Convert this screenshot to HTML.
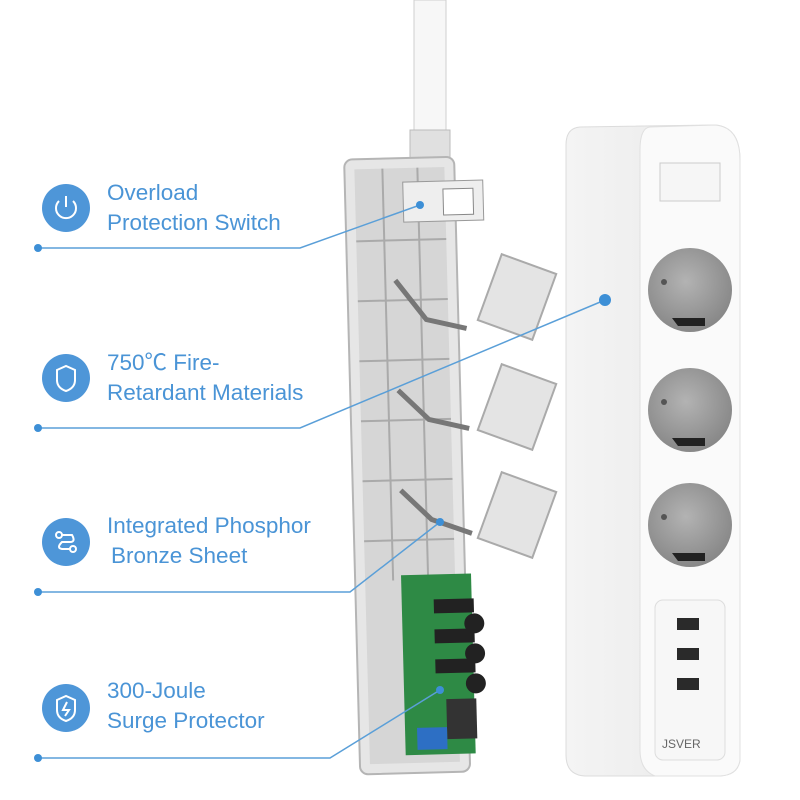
<!DOCTYPE html>
<html><head><meta charset="utf-8"><style>
html,body{margin:0;padding:0;background:#fff;}
svg{display:block}
text{font-family:"Liberation Sans","Noto Sans CJK SC",sans-serif;fill:#4a94d6;font-size:22.5px}
</style></head><body>
<svg width="800" height="800" viewBox="0 0 800 800" xmlns="http://www.w3.org/2000/svg">
<defs>
<radialGradient id="sock" cx="45%" cy="40%" r="60%"><stop offset="0" stop-color="#b3b3b3"/><stop offset="1" stop-color="#888"/></radialGradient>
<linearGradient id="side" x1="0" x2="1"><stop offset="0" stop-color="#f4f4f4"/><stop offset="1" stop-color="#e8e8e8"/></linearGradient>
</defs>
<!-- cable -->
<rect x="414" y="0" width="32" height="140" fill="#f7f7f7" stroke="#cfcfcf"/>
<rect x="410" y="130" width="40" height="30" fill="#e0e0e0" stroke="#bbb"/>
<!-- opened housing -->
<g transform="rotate(-1.5 410 460)">
<rect x="352" y="158" width="110" height="615" rx="8" fill="#e6e6e6" stroke="#b5b5b5" stroke-width="2"/>
<rect x="362" y="168" width="90" height="595" fill="#d6d6d6"/>
<g stroke="#aaa" stroke-width="2" fill="none">
<line x1="362" y1="240" x2="452" y2="240"/><line x1="362" y1="300" x2="452" y2="300"/>
<line x1="362" y1="360" x2="452" y2="360"/><line x1="362" y1="420" x2="452" y2="420"/>
<line x1="362" y1="480" x2="452" y2="480"/><line x1="362" y1="540" x2="452" y2="540"/>
<line x1="390" y1="168" x2="390" y2="580"/><line x1="425" y1="168" x2="425" y2="580"/>
</g>
<rect x="410" y="182" width="80" height="40" fill="#eee" stroke="#999"/>
<rect x="450" y="190" width="30" height="26" fill="#fff" stroke="#888"/>
<g stroke="#777" stroke-width="5" fill="none">
<path d="M400 280 L430 320 L470 330"/><path d="M400 390 L430 420 L470 430"/><path d="M400 490 L430 520 L470 535"/>
</g>
<rect x="398" y="575" width="70" height="180" fill="#2e8a45"/>
<rect x="430" y="600" width="40" height="14" fill="#222"/><rect x="430" y="630" width="40" height="14" fill="#222"/><rect x="430" y="660" width="40" height="14" fill="#222"/>
<circle cx="470" cy="625" r="10" fill="#222"/><circle cx="470" cy="655" r="10" fill="#222"/><circle cx="470" cy="685" r="10" fill="#222"/>
<rect x="440" y="700" width="30" height="40" fill="#333"/><rect x="410" y="728" width="30" height="22" fill="#2d6fc4"/>
</g>
<!-- loose clips -->
<g fill="#e4e4e4" stroke="#aaa" stroke-width="2">
<rect x="488" y="262" width="58" height="70" transform="rotate(20 517 297)"/>
<rect x="488" y="372" width="58" height="70" transform="rotate(20 517 407)"/>
<rect x="488" y="480" width="58" height="70" transform="rotate(20 517 515)"/>
</g>
<!-- closed strip -->
<path d="M580 127 L715 125 Q740 127 740 160 L740 760 Q738 775 720 776 L585 776 Q566 775 566 755 L566 145 Q566 128 580 127Z" fill="url(#side)" stroke="#dcdcdc"/>
<path d="M650 127 L715 125 Q740 127 740 160 L740 760 Q738 775 720 776 L655 776 Q640 770 640 750 L640 150 Q640 128 650 127Z" fill="#fafafa" stroke="#e0e0e0"/>
<rect x="660" y="163" width="60" height="38" fill="#f6f6f6" stroke="#ccc"/>
<circle cx="690" cy="290" r="42" fill="url(#sock)"/>
<circle cx="690" cy="410" r="42" fill="url(#sock)"/>
<circle cx="690" cy="525" r="42" fill="url(#sock)"/>
<g fill="#222"><path d="M672 318 L705 318 L705 326 L678 326Z"/><path d="M672 438 L705 438 L705 446 L678 446Z"/><path d="M672 553 L705 553 L705 561 L678 561Z"/></g>
<g fill="#555"><circle cx="664" cy="282" r="3"/><circle cx="664" cy="402" r="3"/><circle cx="664" cy="517" r="3"/></g>
<rect x="655" y="600" width="70" height="160" rx="8" fill="#f7f7f7" stroke="#ddd"/>
<rect x="677" y="618" width="22" height="12" fill="#2a2a2a"/>
<rect x="677" y="648" width="22" height="12" fill="#2a2a2a"/>
<rect x="677" y="678" width="22" height="12" fill="#2a2a2a"/>
<text x="662" y="748" style="font-size:12px;fill:#666">JSVER</text>
<!-- connectors -->
<g stroke="#5a9fd8" stroke-width="1.5" fill="none">
<path d="M38 248 L300 248 L420 205"/>
<path d="M38 428 L300 428 L605 300"/>
<path d="M38 592 L350 592 L440 522"/>
<path d="M38 758 L330 758 L440 690"/>
</g>
<g fill="#3d8fd6">
<circle cx="38" cy="248" r="4"/><circle cx="38" cy="428" r="4"/><circle cx="38" cy="592" r="4"/><circle cx="38" cy="758" r="4"/>
<circle cx="605" cy="300" r="6"/><circle cx="420" cy="205" r="4"/><circle cx="440" cy="522" r="4"/><circle cx="440" cy="690" r="4"/>
</g>
<!-- icons -->
<g fill="#4e96d8"><circle cx="66" cy="208" r="24"/><circle cx="66" cy="378" r="24"/><circle cx="66" cy="542" r="24"/><circle cx="66" cy="708" r="24"/></g>
<g stroke="#fff" stroke-width="2" fill="none">
<path d="M59 201 A10 10 0 1 0 73 201"/><line x1="66" y1="196" x2="66" y2="207"/>
<path d="M57 370 L66 366 L75 370 L75 380 Q75 388 66 391 Q57 388 57 380Z"/>
<circle cx="59" cy="535" r="3"/><circle cx="73" cy="549" r="3"/><path d="M62 535 L72 535 Q76 542 70 542 L62 542 Q56 548 62 549 L70 549"/>
<path d="M57 700 L66 696 L75 700 L75 710 Q75 718 66 721 Q57 718 57 710Z"/><path d="M67 702 L63 710 L69 710 L65 716"/>
</g>
<text x="107" y="200">Overload</text>
<text x="107" y="230">Protection Switch</text>
<text x="107" y="370">750℃ Fire-</text>
<text x="107" y="400">Retardant Materials</text>
<text x="107" y="533">Integrated Phosphor</text>
<text x="111" y="563">Bronze Sheet</text>
<text x="107" y="698">300-Joule</text>
<text x="107" y="728">Surge Protector</text>
</svg>
</body></html>
